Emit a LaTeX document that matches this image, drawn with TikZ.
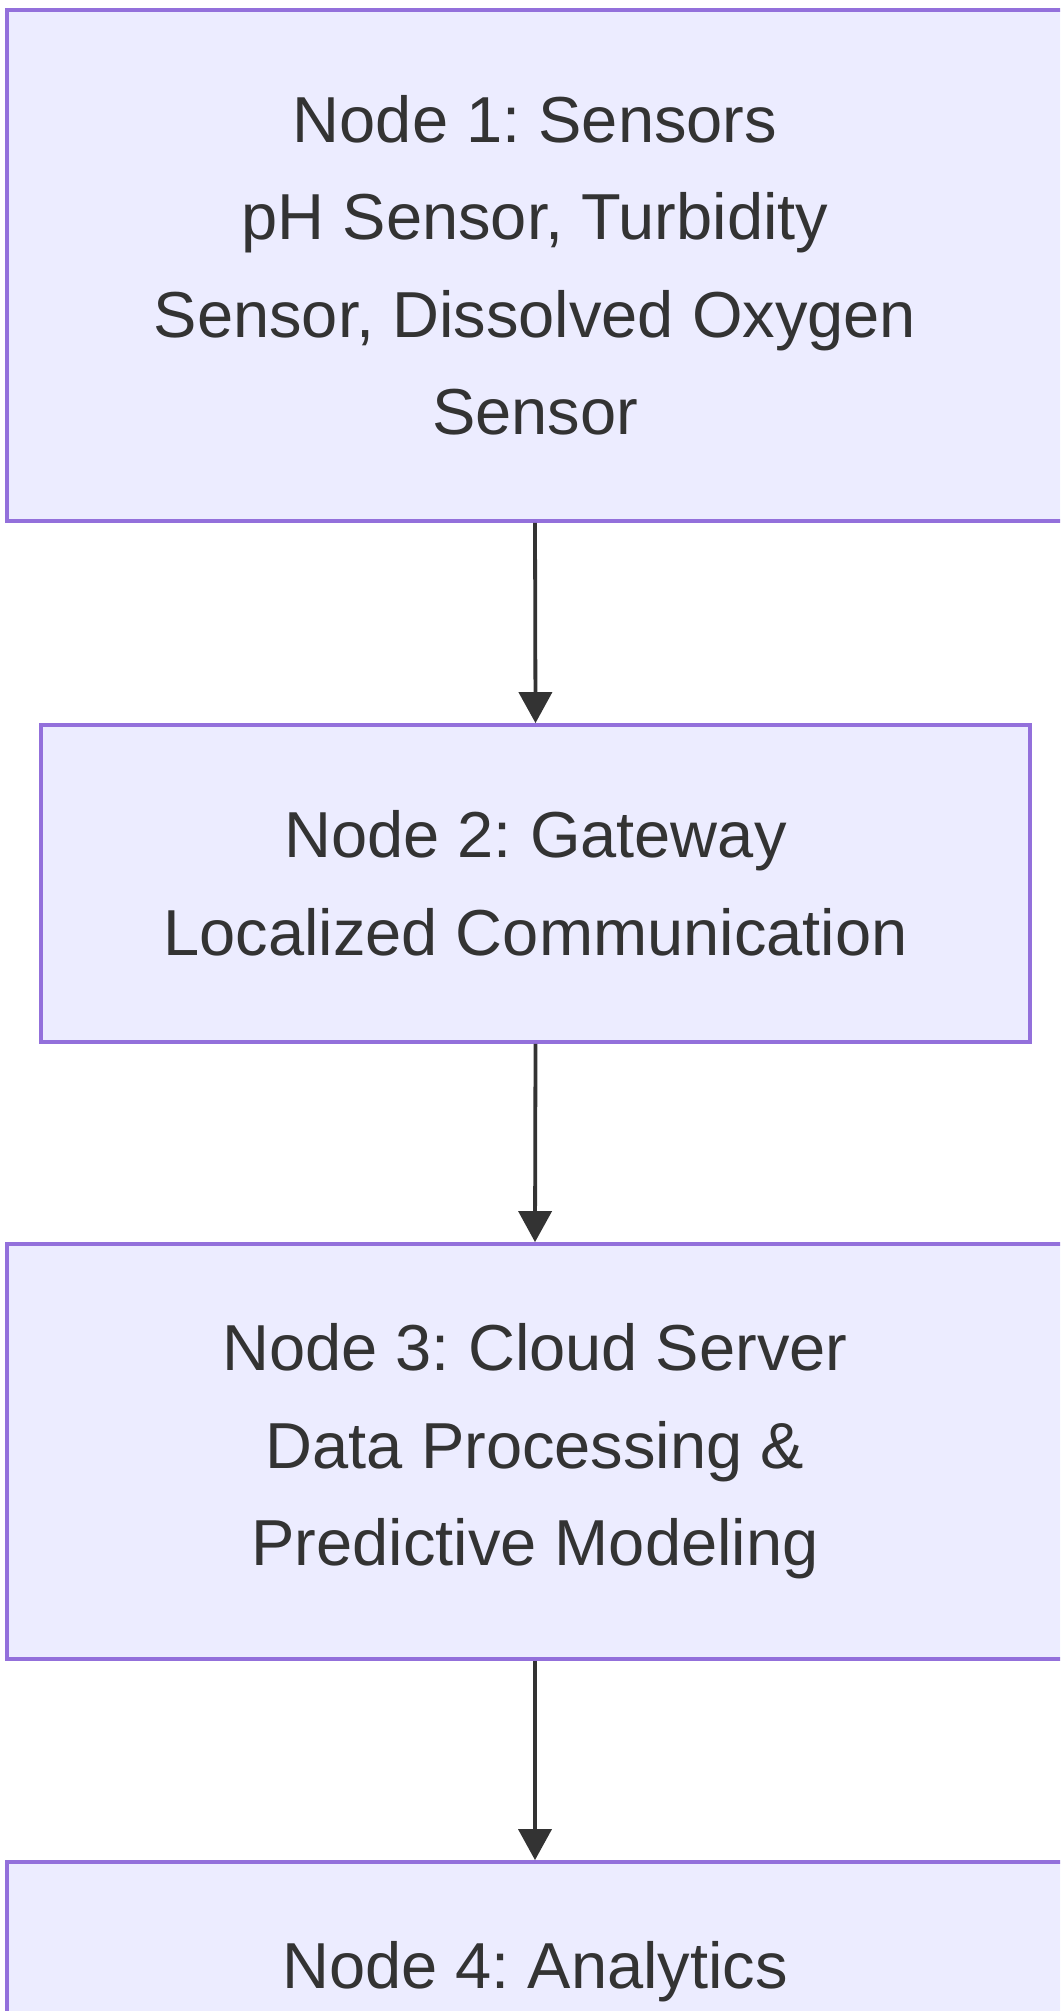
\documentclass[tikz,border=0pt]{standalone}
\usepackage{fontspec}
\setmainfont{Liberation Sans}
\usepackage{xcolor}
\usetikzlibrary{arrows.meta,positioning}

\definecolor{boxfill}{HTML}{ECECFF}
\definecolor{boxline}{HTML}{9370DB}
\definecolor{inkgray}{HTML}{333333}
\frenchspacing

\begin{document}
\begin{tikzpicture}[
  x=0.5pt, y=-0.5pt,
  box/.style={draw=boxline, fill=boxfill, line width=1.9pt, align=center, text=inkgray, inner sep=0pt, font=\fontsize{32.5}{48.75}\selectfont},
  wbox/.style={box, minimum width=528pt},
  flow/.style={-{Triangle[width=16.5pt,length=15.5pt]}, draw=inkgray, line width=1.9pt},
]
\useasboundingbox (0,0) rectangle (1060,2011);
\clip (0,0) rectangle (1060,2011);
% === Boxes ===
\node[wbox, minimum height=255.5pt] (sensors) at (535,265.5) {Node 1: Sensors\\pH Sensor, Turbidity\\Sensor, Dissolved Oxygen\\Sensor};
\node[box, minimum width=494.5pt, minimum height=158.5pt] (gateway) at (535.5,883.5) {Node 2: Gateway\\Localized Communication};
\node[wbox, minimum height=207.5pt] (cloud) at (535,1451.5) {Node 3: Cloud Server\\Data Processing \&\\Predictive Modeling};
\node[wbox, minimum height=110pt] (analytics) at (535,1972) {Node 4: Analytics};
% === Flow ===
\draw[flow] (sensors.south) -- (gateway.north);
\draw[flow] (gateway.south) -- (cloud.north);
\draw[flow] (cloud.south) -- (analytics.north);
\end{tikzpicture}
\end{document}
